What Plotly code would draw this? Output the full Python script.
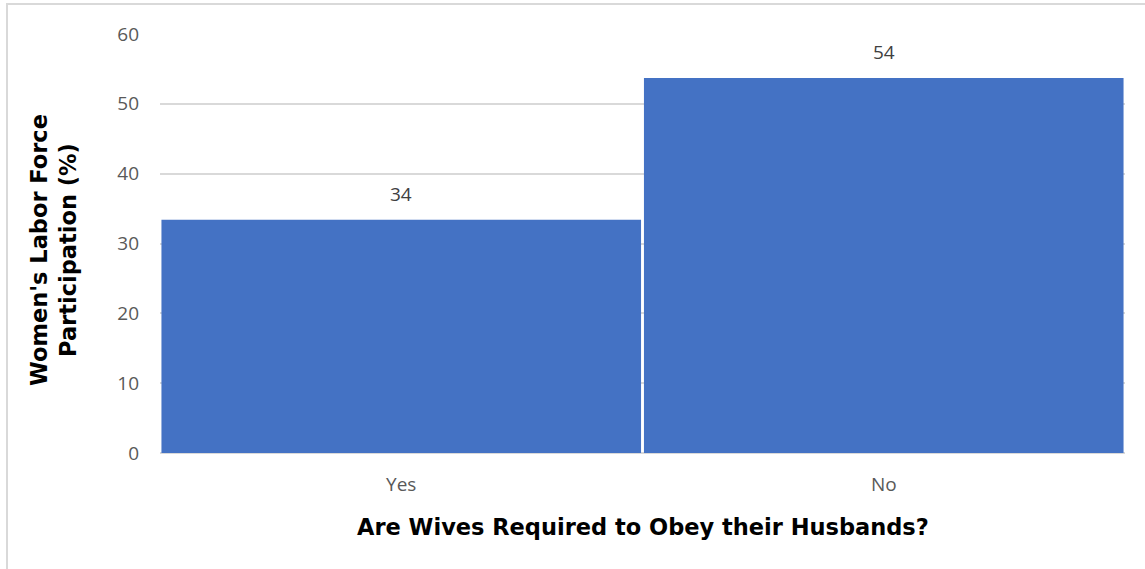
import plotly.graph_objects as go

categories = ["Yes", "No"]
values = [33.4, 53.7]
value_labels = ["34", "54"]
y_ticks = [0, 10, 20, 30, 40, 50, 60]

W, H = 1145, 569
L, R, T, B = 160, 20, 34, 116
pw, ph = W - L - R, H - T - B

fig = go.Figure()
fig.add_trace(go.Bar(
    x=categories, y=values,
    marker=dict(color="#4472C4", line=dict(width=0)),
    hoverinfo="skip",
))

for c, v, t in zip(categories, values, value_labels):
    fig.add_annotation(x=c, y=v, text=t, showarrow=False, yshift=26,
                       yanchor="middle",
                       font=dict(family="Open Sans", size=19, color="#404040"))

# x title
fig.add_annotation(xref="paper", yref="paper", x=0.5, y=-(527 - (T + ph)) / ph,
                   text="<b>Are Wives Required to Obey their Husbands?</b>",
                   showarrow=False, yanchor="middle", xanchor="center",
                   font=dict(family="DejaVu Sans", size=22.5, color="#000000"))
# y title
fig.add_annotation(xref="paper", yref="paper", x=(53 - L) / pw, y=1 - (250 - T) / ph,
                   text="<b>Women's Labor Force<br>Participation (%)</b>",
                   showarrow=False, textangle=-90, xanchor="center", yanchor="middle",
                   font=dict(family="DejaVu Sans", size=22.5, color="#000000"))

# outer chart border
fig.add_shape(type="rect", xref="paper", yref="paper",
              x0=(7 - L) / pw, x1=(W + 20 - L) / pw,
              y0=-(H + 20 - T - ph) / ph, y1=1 + (T - 4) / ph,
              line=dict(color="#D9D9D9", width=2), layer="below")

fig.update_layout(
    width=W, height=H,
    margin=dict(l=L, r=R, t=T, b=B),
    paper_bgcolor="white", plot_bgcolor="white",
    bargap=0.006,
    showlegend=False,
    xaxis=dict(showgrid=False, showline=False, ticks="", ticklabelstandoff=18,
               tickfont=dict(family="Open Sans", size=19, color="#595959")),
    yaxis=dict(range=[0, 60], tickvals=y_ticks, showgrid=True, gridcolor="#D9D9D9",
               gridwidth=1.5, zeroline=True, zerolinecolor="#D9D9D9", zerolinewidth=1.5,
               showline=False, ticks="", ticklabelstandoff=20,
               tickfont=dict(family="Open Sans", size=19, color="#595959")),
)

fig.write_html("out.html")
